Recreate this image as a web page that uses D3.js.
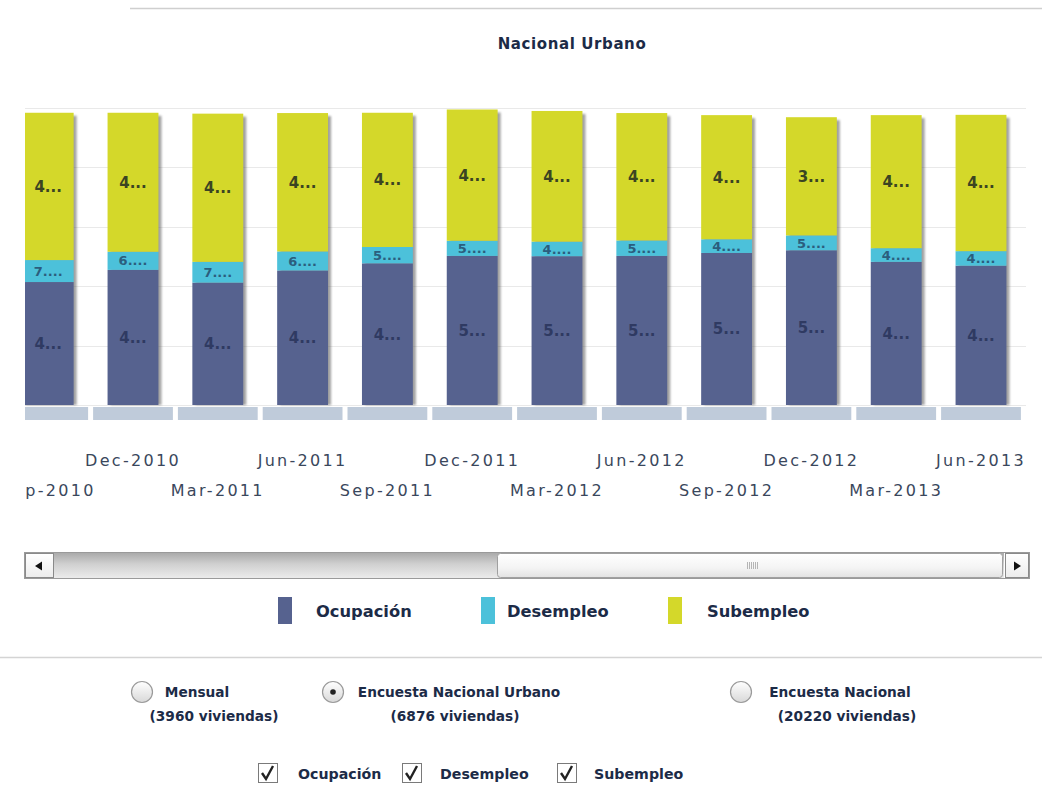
<!DOCTYPE html>
<html>
<head>
<meta charset="utf-8">
<script src="https://cdn.jsdelivr.net/npm/d3@7/dist/d3.min.js"></script>
<style>
  html, body { margin: 0; padding: 0; background: #ffffff; }
  svg { display: block; }
</style>
</head>
<body>
<svg id="chart" width="1042" height="794"></svg>
<script>
// ---- data ----
const categories = ["Sep-2010","Dec-2010","Mar-2011","Jun-2011","Sep-2011","Dec-2011",
                    "Mar-2012","Jun-2012","Sep-2012","Dec-2012","Mar-2013","Jun-2013"];
const ocupacion  = [41.4, 45.5, 41.2, 45.3, 47.7, 50.2, 50.1, 50.2, 51.2, 52.1, 48.2, 46.9];
const desempleo  = [7.4, 6.1, 7.0, 6.4, 5.5, 5.1, 4.9, 5.2, 4.6, 5.0, 4.6, 4.9];
const subempleo  = [49.6, 46.8, 49.9, 46.6, 45.2, 44.2, 44.0, 42.9, 41.8, 39.8, 44.8, 45.9];
const seriesNames = ["Ocupación", "Desempleo", "Subempleo"];
const yTicks = [0, 20, 40, 60, 80, 100];
const radioOptions = [
  {label: "Mensual", sub: "(3960 viviendas)", selected: false},
  {label: "Encuesta Nacional Urbano", sub: "(6876 viviendas)", selected: true},
  {label: "Encuesta Nacional", sub: "(20220 viviendas)", selected: false}
];
const title = "Nacional Urbano";

// ---- styles ----
const colors = {"Ocupación": "#56628f", "Desempleo": "#4cc1da", "Subempleo": "#d4d82a"};
const labelColors = {"Ocupación": "#2f3a62", "Desempleo": "#2b5e7e", "Subempleo": "#3b4422"};
const dark = "#1c2b47";

const svg = d3.select("#chart");
const defs = svg.append("defs");

// scales
const x = d3.scaleBand().domain(categories).range([5.8, 1023.4]).paddingInner(0).paddingOuter(0);
const y = d3.scaleLinear().domain([0, 100]).range([405, 108]);
const step = x.step();
const bw = step * 0.6;

// clip
defs.append("clipPath").attr("id", "plotClip")
  .append("rect").attr("x", 25).attr("y", 0).attr("width", 1001).attr("height", 520);

// shadow filter
const f = defs.append("filter").attr("id", "shadow").attr("x", "-20%").attr("y", "-5%").attr("width", "140%").attr("height", "110%");
f.append("feGaussianBlur").attr("stdDeviation", 1.2);

// gradients
function vGrad(id, stops) {
  const g = defs.append("linearGradient").attr("id", id).attr("x1", 0).attr("y1", 0).attr("x2", 0).attr("y2", 1);
  stops.forEach(s => g.append("stop").attr("offset", s[0]).attr("stop-color", s[1]));
}
vGrad("trackGrad", [[0, "#a9a9a9"], [0.45, "#d0d0d0"], [1, "#ececec"]]);
vGrad("thumbGrad", [[0, "#ffffff"], [0.6, "#f4f4f4"], [1, "#e2e2e2"]]);
vGrad("btnGrad", [[0, "#ffffff"], [1, "#ececec"]]);
vGrad("radioGrad", [[0, "#ffffff"], [1, "#d8d8d8"]]);

// top rule
svg.append("line").attr("x1", 130).attr("x2", 1042).attr("y1", 8.5).attr("y2", 8.5)
  .attr("stroke", "#cfcfcf").attr("stroke-width", 1.5);

// title
svg.append("text").attr("x", 572).attr("y", 49).attr("text-anchor", "middle")
  .attr("font-family", "DejaVu Sans, Verdana, sans-serif").attr("font-weight", "bold")
  .attr("font-size", 15).attr("letter-spacing", 0.6).attr("fill", dark).text(title);

// gridlines
const plot = svg.append("g").attr("clip-path", "url(#plotClip)");
plot.selectAll("line.grid").data(yTicks).join("line").attr("class", "grid")
  .attr("x1", 25).attr("x2", 1026)
  .attr("y1", d => Math.round(y(d)) + 0.5).attr("y2", d => Math.round(y(d)) + 0.5)
  .attr("stroke", "#e9e9e9").attr("stroke-width", 1);

// stack data
const rows = categories.map((c, i) => ({cat: c, "Ocupación": ocupacion[i], "Desempleo": desempleo[i], "Subempleo": subempleo[i]}));
const stack = d3.stack().keys(seriesNames)(rows);

// shadows
plot.append("g").selectAll("rect").data(rows).join("rect")
  .attr("x", d => x(d.cat) + (step - bw) / 2 + 3)
  .attr("y", d => y(d["Ocupación"] + d["Desempleo"] + d["Subempleo"]) + 3)
  .attr("width", bw)
  .attr("height", d => y(0) - y(d["Ocupación"] + d["Desempleo"] + d["Subempleo"]) - 3)
  .attr("fill", "#555").attr("opacity", 0.55).attr("filter", "url(#shadow)");

// bars
const layers = plot.append("g").selectAll("g").data(stack).join("g")
  .attr("fill", d => colors[d.key]);
layers.selectAll("rect").data(d => d.map(v => ({v, key: d.key}))).join("rect")
  .attr("x", d => x(d.v.data.cat) + (step - bw) / 2)
  .attr("y", d => y(d.v[1]))
  .attr("width", bw)
  .attr("height", d => y(d.v[0]) - y(d.v[1]));

// bottom strip cells
plot.append("g").selectAll("rect").data(categories).join("rect")
  .attr("x", d => x(d) + 2.5).attr("y", 407).attr("width", step - 5).attr("height", 13)
  .attr("fill", "#bfcbda");

// value labels
const lbl = plot.append("g").attr("font-family", "DejaVu Sans, Verdana, sans-serif").attr("font-weight", "bold")
  .attr("text-anchor", "middle");
stack.forEach(layer => {
  lbl.append("g").selectAll("text").data(layer).join("text")
    .attr("x", d => x(d.data.cat) + step / 2)
    .attr("y", d => (y(d[0]) + y(d[1])) / 2)
    .attr("dy", "0.36em")
    .attr("font-size", layer.key === "Desempleo" ? 13 : 15)
    .attr("fill", labelColors[layer.key])
    .text(d => String(d.data[layer.key])[0] + (layer.key === "Desempleo" ? "...." : "..."));
});

// x axis (staggered labels)
const axisG = svg.append("g").attr("clip-path", "url(#plotClip)")
  .call(d3.axisBottom(x).tickSize(0).tickPadding(0));
axisG.select(".domain").remove();
axisG.selectAll(".tick text")
  .attr("y", (d, i) => i % 2 === 1 ? 466 : 496)
  .attr("dy", 0)
  .attr("font-family", "DejaVu Sans, Verdana, sans-serif")
  .attr("font-size", 16)
  .attr("letter-spacing", 2.3)
  .attr("fill", "#3a475c");

// scrollbar
const sb = svg.append("g");
sb.append("rect").attr("x", 54).attr("y", 552.5).attr("width", 950).attr("height", 26)
  .attr("fill", "url(#trackGrad)");
sb.append("rect").attr("x", 24.5).attr("y", 552.5).attr("width", 1005).attr("height", 26)
  .attr("fill", "none").attr("stroke", "#9a9a9a");
sb.append("rect").attr("x", 25.5).attr("y", 553.5).attr("width", 28).attr("height", 24)
  .attr("fill", "url(#btnGrad)").attr("stroke", "#8a8a8a");
sb.append("path").attr("d", "M35,566 L42,561.5 L42,570.5 Z").attr("fill", "#111");
sb.append("rect").attr("x", 497.5).attr("y", 553.5).attr("width", 505).attr("height", 24).attr("rx", 3)
  .attr("fill", "url(#thumbGrad)").attr("stroke", "#a0a0a0");
[0, 1, 2, 3, 4, 5].forEach(k => sb.append("line")
  .attr("x1", 747.5 + k * 2).attr("x2", 747.5 + k * 2).attr("y1", 562).attr("y2", 569)
  .attr("stroke", "#b5b5b5"));
sb.append("rect").attr("x", 1005.5).attr("y", 553.5).attr("width", 23).attr("height", 24)
  .attr("fill", "url(#btnGrad)").attr("stroke", "#8a8a8a");
sb.append("path").attr("d", "M1021,566 L1014,561.5 L1014,570.5 Z").attr("fill", "#111");

// legend
const legendX = [278, 481, 668];
const legendTextX = [316, 507, 707];
const lg = svg.append("g");
seriesNames.forEach((s, i) => {
  lg.append("rect").attr("x", legendX[i]).attr("y", 597).attr("width", 14).attr("height", 27).attr("fill", colors[s]);
  lg.append("text").attr("x", legendTextX[i]).attr("y", 617)
    .attr("font-family", "DejaVu Sans, Verdana, sans-serif").attr("font-weight", "bold")
    .attr("font-size", 16.3).attr("fill", dark).text(s);
});

// separator
svg.append("line").attr("x1", 0).attr("x2", 1042).attr("y1", 657.5).attr("y2", 657.5)
  .attr("stroke", "#d4d4d4").attr("stroke-width", 1.5);

// radio options
const radioCx = [142, 333, 741];
const radioTextX = [197, 459, 840];
const radioSubX = [214, 455, 847];
const rg = svg.append("g").attr("font-family", "DejaVu Sans, Verdana, sans-serif").attr("font-weight", "bold")
  .attr("font-size", 13.7).attr("fill", dark);
radioOptions.forEach((o, i) => {
  rg.append("circle").attr("cx", radioCx[i]).attr("cy", 692).attr("r", 10.5)
    .attr("fill", "url(#radioGrad)").attr("stroke", "#9a9a9a").attr("stroke-width", 1.2);
  if (o.selected) rg.append("circle").attr("cx", radioCx[i]).attr("cy", 692).attr("r", 2.8).attr("fill", "#222");
  rg.append("text").attr("x", radioTextX[i]).attr("y", 697).attr("text-anchor", "middle").text(o.label);
  rg.append("text").attr("x", radioSubX[i]).attr("y", 721).attr("text-anchor", "middle").text(o.sub);
});

// checkboxes
const boxX = [258, 402, 557];
const boxTextX = [298, 440, 594];
const cg = svg.append("g").attr("font-family", "DejaVu Sans, Verdana, sans-serif").attr("font-weight", "bold")
  .attr("font-size", 14.2).attr("fill", dark);
seriesNames.forEach((s, i) => {
  cg.append("rect").attr("x", boxX[i] + 0.5).attr("y", 763.5).attr("width", 19).attr("height", 19)
    .attr("fill", "#fff").attr("stroke", "#7a7a7a");
  cg.append("path").attr("d", `M${boxX[i] + 4},${773} L${boxX[i] + 8},${779} L${boxX[i] + 15},${766}`)
    .attr("fill", "none").attr("stroke", "#222").attr("stroke-width", 2.4);
  cg.append("text").attr("x", boxTextX[i]).attr("y", 779).text(s);
});
</script>
</body>
</html>
